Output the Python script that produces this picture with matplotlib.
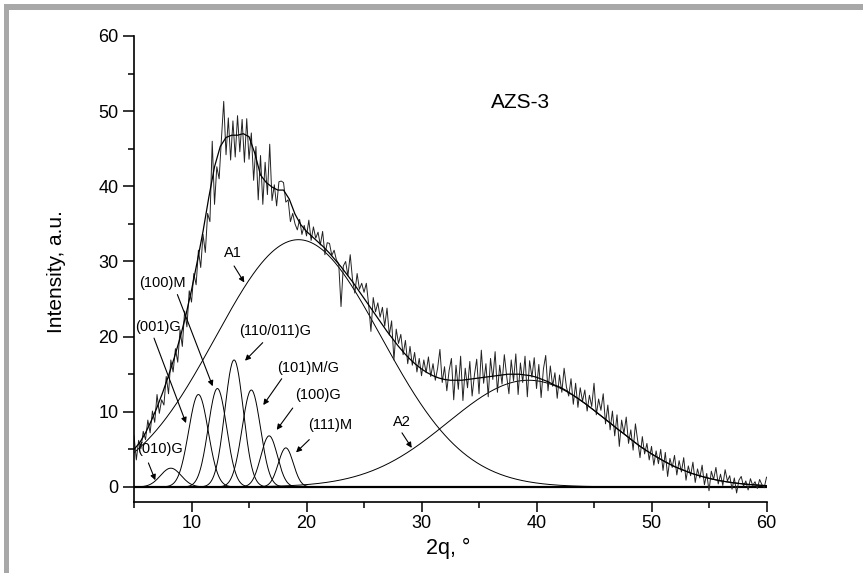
import numpy as np
import matplotlib
matplotlib.use("Agg")
import matplotlib.pyplot as plt
from matplotlib.patches import Rectangle

plt.rcParams['font.family'] = ['Liberation Sans', 'DejaVu Sans']

# Measured pattern, 2theta from 5 to 60 deg, step 0.2
two_theta = np.round(np.arange(5.0, 60.01, 0.2), 1)
intensity = [
    6.8, 3.6, 6.2, 5.1, 7.4,
    6.3, 8.9, 7.2, 10.1, 8.6,
    12.3, 9.8, 11.6, 10.9, 14.7,
    12.4, 16.9, 15.3, 18.4, 16.6,
    20.9, 18.7, 23.4, 21.3, 26.1,
    24.6, 28.4, 26.9, 31.5, 29.2,
    33.6, 31.2, 36.4, 35.3, 46.0,
    37.6, 42.6, 41.0, 46.3, 51.3,
    44.2, 49.1, 43.5, 48.7, 43.9,
    49.4, 44.6, 48.9, 43.2, 49.0,
    43.6, 47.1, 40.8, 45.3, 38.2,
    44.1, 37.6, 43.2, 38.9, 45.6,
    38.1, 40.2, 37.4, 40.6, 40.7,
    40.5, 37.9, 38.2, 35.3, 36.4,
    35.0, 34.2, 35.6, 33.6, 34.8,
    33.4, 35.5, 32.8, 34.6, 33.1,
    33.9, 32.2, 34.0, 30.9, 32.5,
    32.4, 30.8, 31.5, 30.2, 29.7,
    24.0, 29.4, 30.0, 28.1, 30.9,
    27.6, 25.8, 28.4, 26.3, 27.1,
    25.9, 27.1, 24.3, 20.7, 25.2,
    23.3, 24.5, 22.6, 23.9, 21.4,
    23.8, 20.2, 22.1, 16.9, 21.0,
    19.1, 20.3, 17.6, 19.5, 16.4,
    18.7, 16.2, 17.9, 15.3, 17.1,
    14.8, 16.9, 15.2, 17.3, 14.7,
    16.4, 14.2, 15.8, 18.3, 13.9,
    16.0, 12.8, 15.5, 17.1, 11.6,
    16.2, 13.0, 17.4, 11.5, 15.8,
    13.2, 16.7, 12.1, 14.9, 17.0,
    12.4, 18.2, 13.8, 16.4, 12.0,
    17.1, 14.3, 18.0, 12.6, 16.2,
    13.7, 17.6, 14.8, 12.4, 16.9,
    14.1, 17.7, 12.3, 16.5, 13.9,
    17.4, 12.0, 16.8, 14.6, 17.2,
    13.1, 16.3, 11.9, 15.7, 17.5,
    12.8, 16.1, 13.4, 15.2, 11.8,
    14.9, 12.6, 15.8, 13.3, 12.1,
    14.4, 11.0, 13.8, 10.6, 13.2,
    11.4, 12.9, 10.1, 12.2, 10.7,
    13.8, 9.6, 11.7, 10.2, 12.4,
    8.4, 10.9, 7.6, 10.1, 6.8,
    9.6, 5.4, 8.9, 7.1, 9.3,
    5.8, 7.6, 4.9, 8.4, 6.2,
    3.9, 6.7, 4.4, 5.8, 3.6,
    5.4, 2.9, 4.8, 3.1, 5.0,
    2.2, 4.6, 1.4, 3.8, 2.6,
    4.2, 1.6, 3.5, 2.0, 3.9,
    0.9, 2.8, 1.5, 3.3, 0.6,
    2.4, 1.2, 2.9, 0.3, 1.8,
    -0.5, 2.1, 1.0, 2.6, 0.4,
    1.7, 0.2, 2.3, 0.8, 1.5,
    -0.3, 1.2, -0.8, 0.9, 1.4,
    0.1, 0.8, -0.4, 1.1, 0.2,
    0.7, -0.2, 1.0, 0.3, -0.1,
    1.3,
]

# Overall fitted envelope, read every 0.5 deg
fit_theta = np.round(np.arange(5.0, 60.01, 0.5), 1)
fit_curve = [
    5.0, 5.9, 7.2, 8.8, 10.6, 12.6, 14.8, 17.2, 19.8, 22.8,
    26.2, 30.0, 34.0, 38.5, 42.6, 45.3, 46.5, 46.8, 46.8, 47.0,
    46.6, 44.4, 41.5, 40.5, 39.9, 39.5, 39.5, 38.3, 36.3, 34.9,
    34.0, 33.3, 32.6, 31.9, 31.1, 30.2, 29.3, 28.3, 27.3, 26.2,
    25.1, 24.0, 22.9, 21.8, 20.7, 19.7, 18.7, 17.8, 17.0, 16.3,
    15.7, 15.2, 14.8, 14.5, 14.3, 14.2, 14.2, 14.2, 14.3, 14.4,
    14.5, 14.6, 14.7, 14.8, 14.9, 15.0, 15.0, 15.0, 14.9, 14.8,
    14.6, 14.3, 14.0, 13.6, 13.3, 12.9, 12.4, 11.9, 11.35, 10.8,
    10.2, 9.6, 9.0, 8.4, 7.75, 7.2, 6.6, 6.0, 5.4, 4.9,
    4.4, 3.95, 3.5, 3.1, 2.7, 2.4, 2.1, 1.8, 1.57, 1.35,
    1.15, 0.98, 0.82, 0.7, 0.58, 0.49, 0.4, 0.33, 0.27, 0.22,
    0.18,
]

# Fitted Gaussian components
peak_names = ["(010)G", "(001)G", "(100)M", "(110/011)G", "(101)M/G",
              "(100)G", "(111)M", "A1", "A2"]
peak_centers = [8.2, 10.6, 12.25, 13.7, 15.2, 16.75, 18.2, 19.3, 39.3]
peak_heights = [2.5, 12.3, 13.1, 16.9, 12.9, 6.8, 5.2, 32.9, 14.2]
peak_sigmas = [0.9, 0.85, 0.8, 0.8, 0.8, 0.72, 0.65, 7.2, 7.0]

# label position (x, y) and arrow from -> to, in data units
label_pos = {
    "(010)G": (7.25, 5.0), "(001)G": (7.1, 21.3), "(100)M": (7.5, 27.2),
    "(110/011)G": (17.3, 20.7), "(101)M/G": (20.1, 15.8), "(100)G": (21.0, 12.2),
    "(111)M": (22.05, 8.2), "A1": (13.57, 31.1), "A2": (28.3, 8.6),
}
arrows = {
    "(010)G": ((6.25, 3.2), (6.85, 0.9)),
    "(001)G": ((6.74, 19.8), (9.52, 8.5)),
    "(100)M": ((8.77, 25.6), (11.84, 13.4)),
    "(110/011)G": ((16.19, 19.2), (14.65, 16.8)),
    "(101)M/G": ((17.84, 14.4), (16.24, 10.9)),
    "(100)G": ((18.8, 10.5), (17.41, 7.6)),
    "(111)M": ((20.24, 6.3), (19.09, 4.6)),
    "A1": ((13.7, 29.4), (14.59, 27.2)),
    "A2": ((28.3, 7.2), (29.15, 5.2)),
}

fig = plt.figure(figsize=(8.63, 5.73), dpi=100)
ax = fig.add_axes([0.1553, 0.1239, 0.7329, 0.8133])

# gray frame at the figure edges
fig.patches.append(Rectangle((3.5 / 863, 0), 5 / 863, 1 - 4 / 573, transform=fig.transFigure,
                             color="#a8a8a8", lw=0, zorder=0))
fig.patches.append(Rectangle((3.5 / 863, 1 - 9.5 / 573), 1 - 3.5 / 863, 5 / 573,
                             transform=fig.transFigure, color="#a8a8a8", lw=0, zorder=0))

xs = np.linspace(5, 60, 1101)
for c, h, s in zip(peak_centers, peak_heights, peak_sigmas):
    comp = h * np.exp(-(xs - c) ** 2 / (2 * s ** 2))
    ax.plot(xs, comp, color="black", lw=0.7)

ax.axhline(0, color="#222222", lw=1.6, zorder=1)
ax.plot(two_theta, intensity, color="#222222", lw=0.7)
ax.plot(fit_theta, fit_curve, color="black", lw=0.9)

for name in peak_names:
    tx, ty = label_pos[name]
    ax.text(tx, ty, name, fontsize=10.5, ha="center", va="center")
    (x0, y0), (x1, y1) = arrows[name]
    ax.annotate("", xy=(x1, y1), xytext=(x0, y0),
                arrowprops=dict(arrowstyle="-|>", color="black", lw=0.8,
                                mutation_scale=8, shrinkA=0, shrinkB=0))

ax.text(38.65, 51.1, "AZS-3", fontsize=15, ha="center", va="center")

ax.set_xlim(5, 60)
ax.set_ylim(-2.0, 60)
ax.spines["top"].set_visible(False)
ax.spines["right"].set_visible(False)
ax.spines["left"].set_linewidth(1.2)
ax.spines["bottom"].set_linewidth(1.2)
ax.set_xticks([10, 20, 30, 40, 50, 60])
ax.set_xticks([5, 15, 25, 35, 45, 55], minor=True)
ax.set_yticks([0, 10, 20, 30, 40, 50, 60])
ax.set_yticks([5, 15, 25, 35, 45, 55], minor=True)
ax.tick_params(axis="x", which="major", length=7, width=1.1, pad=2, labelsize=13)
ax.tick_params(axis="x", which="minor", length=4, width=1.1)
ax.tick_params(axis="y", which="major", length=8, width=1.1, pad=3, labelsize=13)
ax.tick_params(axis="y", which="minor", length=4, width=1.1)

ax.text(-0.123, 0.495, "Intensity, a.u.", rotation=90, fontsize=15,
        ha="center", va="center", transform=ax.transAxes)
ax.text(0.496, -0.099, "2q, °", fontsize=15.5, ha="center", va="center",
        transform=ax.transAxes)

fig.savefig("out.png", dpi=100)
